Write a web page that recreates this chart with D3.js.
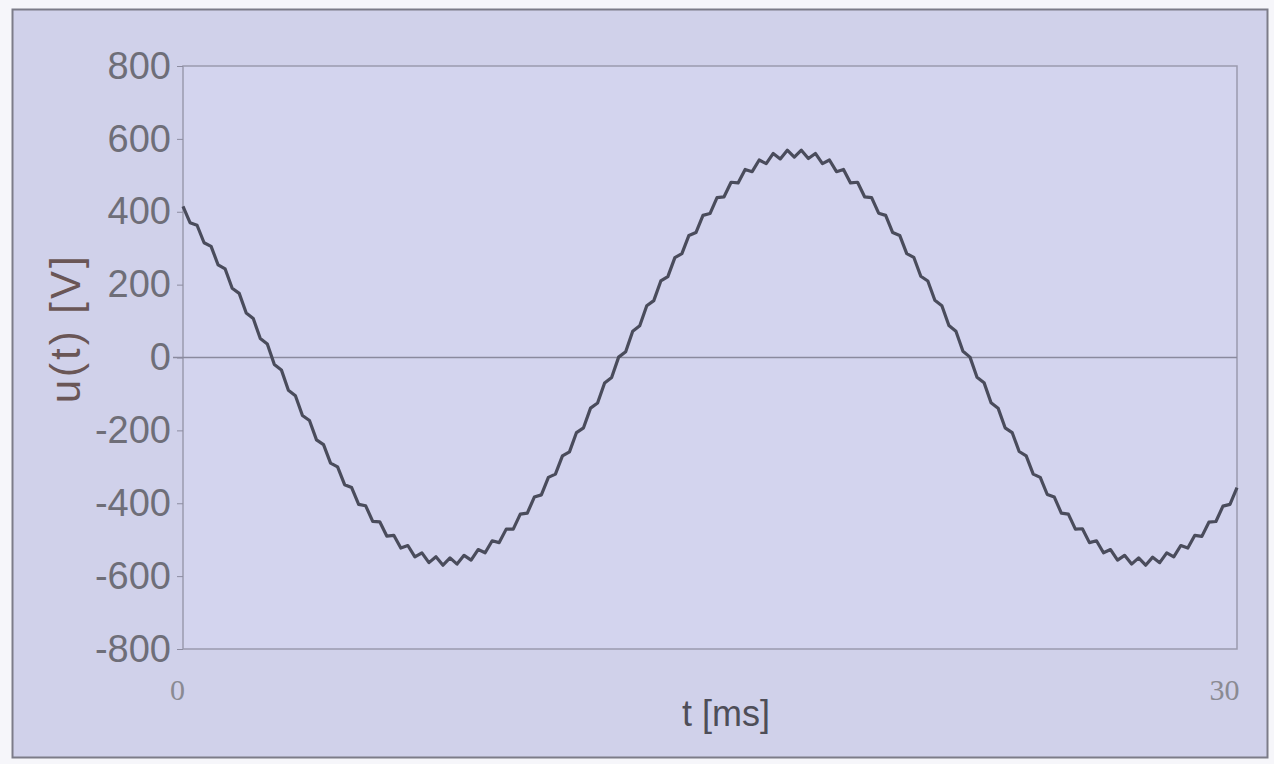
<!DOCTYPE html>
<html>
<head>
<meta charset="utf-8">
<script src="https://cdn.jsdelivr.net/npm/d3@7"></script>
<style>
  html, body { margin: 0; padding: 0; background: #f6f6fa; }
  svg { display: block; }
  .axisy text { font-family: "Liberation Sans", Arial, sans-serif; font-size: 38px; fill: #6e6e78; }
  .axisy path, .axisy line { stroke: #8c8ca0; }
  .axisx text { font-family: "Liberation Serif", "Times New Roman", serif; font-size: 30px; fill: #8a8a92; }
  .axisx path, .axisx line { stroke: none; }
</style>
</head>
<body>
<svg id="chart" width="1274" height="764"></svg>
<script>
// u(t) in V, read every 0.2 ms from 0 to 30 ms (ripple included)
const uValues = [
  415, 370, 363, 315, 305, 254, 243, 190, 176, 122,
  107, 52, 37, -19, -34, -90, -105, -159, -173, -226,
  -239, -290, -300, -349, -357, -403, -407, -450, -451, -490,
  -488, -523, -516, -547, -536, -563, -547, -570, -550, -567,
  -543, -556, -527, -536, -503, -508, -471, -471, -430, -427,
  -383, -377, -329, -320, -270, -259, -206, -193, -139, -125,
  -70, -55, 1, 16, 72, 87, 142, 156, 210, 222,
  274, 285, 335, 343, 390, 395, 439, 441, 481, 479,
  516, 510, 542, 532, 560, 545, 569, 550, 569, 546,
  560, 532, 542, 510, 516, 479, 481, 441, 439, 396,
  390, 343, 335, 285, 275, 223, 210, 157, 142, 88,
  72, 17, 1, -54, -69, -124, -139, -193, -206, -258,
  -270, -320, -329, -376, -383, -427, -430, -471, -470, -508,
  -503, -536, -527, -556, -543, -567, -550, -570, -548, -563,
  -536, -547, -516, -523, -488, -491, -452, -450, -408, -403,
  -357
];
const sampleStep = 0.2; // ms
const tValues = uValues.map((d, i) => +(i * sampleStep).toFixed(1));

const yTicks = [-800, -600, -400, -200, 0, 200, 400, 600, 800];
const xTicks = [0, 30];
const xLabel = "t [ms]";
const yLabel = "u(t) [V]";

const svg = d3.select("#chart");
const m = {left: 183, right: 1237, top: 66, bottom: 649};

// outer panel
svg.append("rect")
  .attr("x", 12.5).attr("y", 9.5)
  .attr("width", 1255).attr("height", 748)
  .attr("fill", "#d0d1ea")
  .attr("stroke", "#7c7c88")
  .attr("stroke-width", 2);

const x = d3.scaleLinear().domain([0, 30]).range([m.left, m.right]);
const y = d3.scaleLinear().domain([-800, 800]).range([m.bottom, m.top]);

// plot area
svg.append("rect")
  .attr("x", m.left).attr("y", m.top)
  .attr("width", m.right - m.left).attr("height", m.bottom - m.top)
  .attr("fill", "#d3d4ee")
  .attr("stroke", "#9a9aae")
  .attr("stroke-width", 1.5);

// zero line
svg.append("line")
  .attr("x1", m.left - 10).attr("x2", m.right)
  .attr("y1", y(0)).attr("y2", y(0))
  .attr("stroke", "#8a8a9e")
  .attr("stroke-width", 1.5);

const axisY = d3.axisLeft(y).tickValues(yTicks).tickSize(6).tickPadding(6)
  .tickFormat(d => String(d));
svg.append("g")
  .attr("class", "axisy")
  .attr("transform", `translate(${m.left},0)`)
  .call(axisY)
  .call(g => g.select(".domain").remove());

const axisX = d3.axisBottom(x).tickValues(xTicks).tickSize(0).tickPadding(30)
  .tickFormat(d => String(d));
svg.append("g")
  .attr("class", "axisx")
  .attr("transform", `translate(0,${m.bottom})`)
  .call(axisX)
  .call(g => g.select(".domain").remove())
  .call(g => g.selectAll(".tick").filter(d => d === 30).select("text").attr("dx", "-13"))
  .call(g => g.selectAll(".tick").filter(d => d === 0).select("text").attr("dx", "-6"));

// axis titles
svg.append("text")
  .attr("x", 726).attr("y", 726)
  .attr("text-anchor", "middle")
  .attr("font-family", "Liberation Sans, Arial, sans-serif")
  .attr("font-size", 36)
  .attr("fill", "#4e4e58")
  .text(xLabel);

svg.append("text")
  .attr("transform", `translate(80,${y(80)}) rotate(-90)`)
  .attr("text-anchor", "middle")
  .attr("font-family", "Liberation Sans, Arial, sans-serif")
  .attr("font-size", 42)
  .attr("letter-spacing", 3)
  .attr("fill", "#6a5656")
  .text(yLabel);

// waveform
const line = d3.line()
  .x((d, i) => x(tValues[i]))
  .y(d => y(d));

svg.append("path")
  .datum(uValues)
  .attr("fill", "none")
  .attr("stroke", "#4a4c5c")
  .attr("stroke-width", 3.2)
  .attr("stroke-linejoin", "round")
  .attr("d", line);
</script>
</body>
</html>
